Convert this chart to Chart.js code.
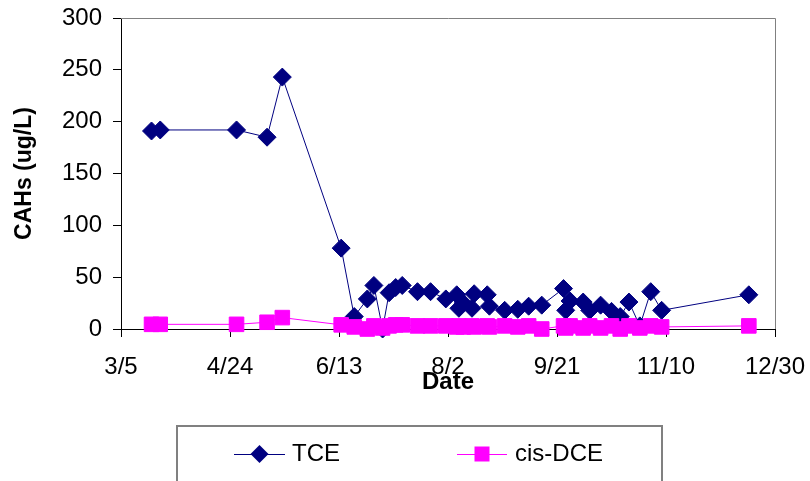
<!DOCTYPE html>
<html>
<head>
<meta charset="utf-8">
<script src="https://cdn.jsdelivr.net/npm/chart.js@4.4.1/dist/chart.umd.min.js"></script>
<style>
html,body{margin:0;padding:0;background:#fff;}
#wrap{width:810px;height:481px;position:relative;}
</style>
</head>
<body>
<div id="wrap"><canvas id="c" width="810" height="481"></canvas></div>
<script>
// ---- data ----
const seriesNames = ["TCE", "cis-DCE"];
const sampleDates = ["3/19","3/23","4/27","5/11","5/18","6/14","6/20","6/26","6/29","7/3",
  "7/6","7/9","7/12","7/19","7/25","8/1","8/6","8/7","8/9","8/13",
  "8/14","8/20","8/21","8/28","9/3","9/8","9/14","9/24","9/25","9/27",
  "10/3","10/6","10/11","10/16","10/20","10/24","10/29","11/3","11/8","12/18"];
const tceValues = [191,192,192,185,243,78,12,29,42,0,
  35,40,42,36,36,29,33,20,25,20,
  34,33,22,18,19,22,23,39,18,27,
  26,18,23,17,12,26,3,36,18,33];
const cisDceValues = [4.5,4.5,4.5,6.5,11,4,2,0,3,1,
  3,4,4,3,3,3,2,3,2,3,
  2,3,2,3,2,3,0,3,1,3,
  1,3,1,3,0,3,1,3,2,3];
const xTickLabels = ["3/5","4/24","6/13","8/2","9/21","11/10","12/30"];
const yAxisTitle = "CAHs (ug/L)";
const xAxisTitle = "Date";

// ---- date conversion (days since 3/5, non-leap year) ----
const daysInMonth = [31,28,31,30,31,30,31,31,30,31,30,31];
function dayOfYear(s){
  const p = s.split('/').map(Number);
  let n = 0;
  for (let i = 0; i < p[0]-1; i++) n += daysInMonth[i];
  return n + p[1];
}
const originDay = dayOfYear(xTickLabels[0]);
function dayIndex(s){ return dayOfYear(s) - originDay; }

const FONT = "'Liberation Sans', Arial, sans-serif";
Chart.defaults.font.family = FONT;

const NAVY = '#000080';
const MAGENTA = '#FF00FF';

const framePlugin = {
  id: 'frame',
  beforeDatasetsDraw(chart){
    const a = chart.chartArea, ctx = chart.ctx;
    ctx.save();
    ctx.strokeStyle = '#808080';
    ctx.lineWidth = 1;
    ctx.beginPath();
    ctx.moveTo(a.left, a.top + 0.5);
    ctx.lineTo(a.right + 0.5, a.top + 0.5);
    ctx.lineTo(a.right + 0.5, a.bottom);
    ctx.stroke();
    ctx.restore();
  }
};

function drawMarker(ctx, style, x, y, color){
  ctx.fillStyle = color;
  ctx.beginPath();
  if (style === 'rectRot') {
    const r = 9;
    ctx.moveTo(x - r, y); ctx.lineTo(x, y - r); ctx.lineTo(x + r, y); ctx.lineTo(x, y + r);
  } else {
    const h = 7.5;
    ctx.rect(x - h, y - h, 2*h, 2*h);
  }
  ctx.closePath();
  ctx.fill();
}

const boxLegendPlugin = {
  id: 'boxLegend',
  afterDraw(chart){
    const ctx = chart.ctx;
    ctx.save();
    ctx.strokeStyle = '#808080';
    ctx.lineWidth = 2;
    ctx.strokeRect(177, 426, 485, 80);
    const items = [
      {ds: chart.data.datasets[0], x1: 234, x2: 285, tx: 292},
      {ds: chart.data.datasets[1], x1: 457, x2: 507, tx: 515}
    ];
    const y = 454;
    items.forEach(it => {
      ctx.strokeStyle = it.ds.borderColor;
      ctx.lineWidth = 1;
      ctx.beginPath();
      ctx.moveTo(it.x1, y + 0.5); ctx.lineTo(it.x2, y + 0.5);
      ctx.stroke();
      drawMarker(ctx, it.ds.pointStyle, (it.x1 + it.x2)/2, y, it.ds.backgroundColor);
      ctx.fillStyle = '#000';
      ctx.font = '24px ' + FONT;
      ctx.textBaseline = 'middle';
      ctx.textAlign = 'left';
      ctx.fillText(it.ds.label, it.tx, y);
    });
    ctx.restore();
  }
};

new Chart(document.getElementById('c'), {
  type: 'line',
  data: {
    datasets: [
      {
        label: seriesNames[0],
        data: sampleDates.map((d, i) => ({x: dayIndex(d), y: tceValues[i]})),
        borderColor: NAVY, backgroundColor: NAVY,
        borderWidth: 1, tension: 0,
        pointStyle: 'rectRot', pointRadius: 9, pointBorderWidth: 1,
        pointBackgroundColor: NAVY, pointBorderColor: NAVY,
        order: 1, clip: false
      },
      {
        label: seriesNames[1],
        data: sampleDates.map((d, i) => ({x: dayIndex(d), y: cisDceValues[i]})),
        borderColor: MAGENTA, backgroundColor: MAGENTA,
        borderWidth: 1, tension: 0,
        pointStyle: 'rect', pointRadius: 10.3, pointBorderWidth: 1,
        pointBackgroundColor: MAGENTA, pointBorderColor: MAGENTA,
        order: 0, clip: false
      }
    ]
  },
  options: {
    responsive: false,
    animation: false,
    events: [],
    layout: {padding: {left: 0, right: 35, top: 18, bottom: 84}},
    plugins: {legend: {display: false}, tooltip: {enabled: false}},
    scales: {
      x: {
        type: 'linear', min: 0, max: 300,
        afterFit(s){ s.height = 68; s.paddingLeft = 0; s.paddingRight = 0; },
        ticks: {
          stepSize: 50, color: '#000', autoSkip: false, maxRotation: 0,
          font: {size: 24, lineHeight: 1.2}, padding: 16,
          callback: v => xTickLabels[Math.round(v / 50)]
        },
        grid: {drawOnChartArea: false, color: '#000', tickLength: 8, lineWidth: 1},
        border: {color: '#000', width: 1},
        title: {display: true, text: xAxisTitle, color: '#000',
          font: {size: 24, weight: 'bold', lineHeight: 1.2}, padding: {top: 0, bottom: 0}}
      },
      y: {
        min: 0, max: 300,
        afterFit(s){ s.width = 121; s.paddingTop = 0; s.paddingBottom = 0; },
        ticks: {stepSize: 50, color: '#000', font: {size: 24, lineHeight: 1.2}, padding: 11},
        grid: {drawOnChartArea: false, color: '#000', tickLength: 8, lineWidth: 1},
        border: {color: '#000', width: 1},
        title: {display: true, text: yAxisTitle, color: '#000',
          font: {size: 23, weight: 'bold', lineHeight: 1.2}, padding: {top: 11, bottom: 0}}
      }
    }
  },
  plugins: [framePlugin, boxLegendPlugin]
});
</script>
</body>
</html>
